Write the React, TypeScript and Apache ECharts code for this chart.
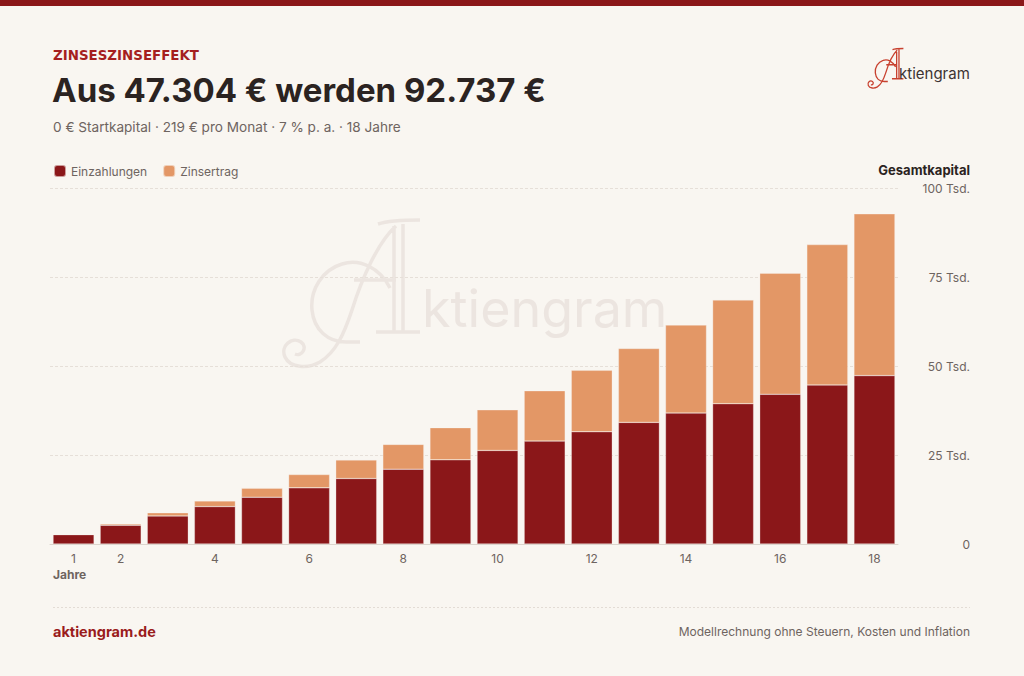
import React, { useEffect, useRef } from "react";
import * as echarts from "echarts";

const years = ["1","2","3","4","5","6","7","8","9","10","11","12","13","14","15","16","17","18"];
const einzahlungen = [2628, 5256, 7884, 10512, 13140, 15768, 18396, 21024, 23652, 26280, 28908, 31536, 34164, 36792, 39420, 42048, 44676, 47304];
const zinsertrag = [102, 394, 886, 1598, 2550, 3742, 5204, 6956, 9018, 11400, 14132, 17244, 20756, 24698, 29100, 34002, 39424, 45433];
const yTicks = [0, 25000, 50000, 75000, 100000];

const FONT = "Inter, 'Noto Sans', sans-serif";
const BG = "#F9F6F1";
const RED = "#8B1719";
const ORANGE = "#E39766";
const GRAY = "#6E6460";
const DARK = "#2B2321";

const A_PATH =
  "M114 8 L114 114 M123 6 L123 114 " +
  "M98 6 C110 2 128 2 140 2 " +
  "M96 114 L140 114 " +
  "M74 62 L116 62 " +
  "M116 8 C98 24 82 60 72 92 C64 116 56 134 40 144 C28 151 10 150 5 139 C0 128 12 118 21 124 C28 129 22 139 15 136 " +
  "M110 70 C100 50 80 40 62 46 C42 52 30 72 32 92 C34 112 48 124 66 124 L80 124";

let registered = false;
function ensureShape() {
  if (registered) return;
  registered = true;
  echarts.graphic.registerShape("logoA", echarts.graphic.extendPath(A_PATH, {}) as any);
}

export default function App() {
  const ref = useRef<HTMLDivElement>(null);
  useEffect(() => {
    document.body.style.margin = "0";
    ensureShape();
    const chart = echarts.init(ref.current!, null, { renderer: "svg" });
    chart.setOption({
      animation: false,
      backgroundColor: BG,
      textStyle: { fontFamily: FONT },
      grid: { left: 50, right: 126, top: 188, bottom: 132 },
      legend: {
        left: 53,
        top: 164,
        padding: 0,
        icon: "roundRect",
        itemWidth: 12,
        itemHeight: 12,
        itemGap: 15,
        textStyle: { color: GRAY, fontSize: 12, fontFamily: FONT },
        data: ["Einzahlungen", "Zinsertrag"],
      },
      xAxis: {
        type: "category",
        data: years,
        axisTick: { show: false },
        axisLine: { lineStyle: { color: "#DDD5CD" } },
        axisLabel: {
          color: GRAY,
          fontSize: 12,
          margin: 8,
          interval: (i: number) => i === 0 || i % 2 === 1,
        },
      },
      yAxis: {
        type: "value",
        position: "right",
        min: yTicks[0],
        max: yTicks[yTicks.length - 1],
        interval: 25000,
        axisLine: { show: false },
        axisTick: { show: false },
        splitLine: { lineStyle: { color: "#E6DFD8", type: [3, 2] } },
        axisLabel: {
          color: GRAY,
          fontSize: 12,
          align: "right",
          margin: 72,
          formatter: (v: number) => (v === 0 ? "0" : v / 1000 + " Tsd."),
        },
      },
      series: [
        {
          name: "Einzahlungen",
          type: "bar",
          stack: "k",
          data: einzahlungen,
          barCategoryGap: "13%",
          itemStyle: { color: RED, borderColor: "rgba(249,246,241,0.6)", borderWidth: 0.5 },
        },
        {
          name: "Zinsertrag",
          type: "bar",
          stack: "k",
          data: zinsertrag,
          barCategoryGap: "13%",
          itemStyle: { color: ORANGE, borderColor: "rgba(249,246,241,0.6)", borderWidth: 0.5 },
        },
      ],
      graphic: [
        { type: "rect", left: 0, top: 0, shape: { width: 1024, height: 6 }, style: { fill: RED } },
        // watermark
        {
          type: "group",
          z: -10,
          silent: true,
          children: [
            { type: "logoA", x: 280, y: 218, style: { fill: null, stroke: "#ECE5E0", lineWidth: 3.5 }, z: -10 },
            {
              type: "text",
              x: 422,
              y: 334,
              z: -10,
              style: { text: "ktiengram", font: `400 52px ${FONT}`, fill: "#ECE5E0", textVerticalAlign: "bottom" },
            },
          ],
        },
        // logo
        { type: "logoA", x: 867, y: 48, scaleX: 0.26, scaleY: 0.27, style: { fill: null, stroke: "#C8412F", lineWidth: 5 } },
        {
          type: "text",
          x: 899,
          y: 81,
          style: { text: "ktiengram", font: `400 15px ${FONT}`, fill: "#3D3331", textVerticalAlign: "bottom" },
        },
        {
          type: "text",
          x: 53,
          y: 55,
          style: { text: "ZINSESZINSEFFEKT", font: `700 13.4px 'DejaVu Sans', sans-serif`, fill: "#A51F1F", textVerticalAlign: "middle" },
        },
        {
          type: "text",
          x: 52,
          y: 90,
          style: { text: "Aus 47.304 € werden 92.737 €", font: `700 33px ${FONT}`, fill: DARK, textVerticalAlign: "middle" },
        },
        {
          type: "text",
          x: 53,
          y: 127,
          style: { text: "0 € Startkapital · 219 € pro Monat · 7 % p. a. · 18 Jahre", font: `400 13.6px ${FONT}`, fill: GRAY, textVerticalAlign: "middle" },
        },
        {
          type: "text",
          x: 970,
          y: 170,
          style: { text: "Gesamtkapital", font: `700 13px ${FONT}`, fill: DARK, textAlign: "right", textVerticalAlign: "middle" },
        },
        {
          type: "text",
          x: 53,
          y: 574,
          style: { text: "Jahre", font: `700 12px ${FONT}`, fill: GRAY, textVerticalAlign: "middle" },
        },
        { type: "line", shape: { x1: 53, y1: 607.5, x2: 970, y2: 607.5 }, style: { stroke: "#E3DCD5", lineWidth: 1, lineDash: [2, 2] } },
        {
          type: "text",
          x: 53,
          y: 631,
          style: { text: "aktiengram.de", font: `700 14.5px ${FONT}`, fill: "#9A1C1C", textVerticalAlign: "middle" },
        },
        {
          type: "text",
          x: 970,
          y: 631,
          style: { text: "Modellrechnung ohne Steuern, Kosten und Inflation", font: `400 12px ${FONT}`, fill: GRAY, textAlign: "right", textVerticalAlign: "middle" },
        },
      ],
    });
    return () => chart.dispose();
  }, []);
  return <div ref={ref} style={{ position: "absolute", left: 0, top: 0, width: 1024, height: 676 }} />;
}
